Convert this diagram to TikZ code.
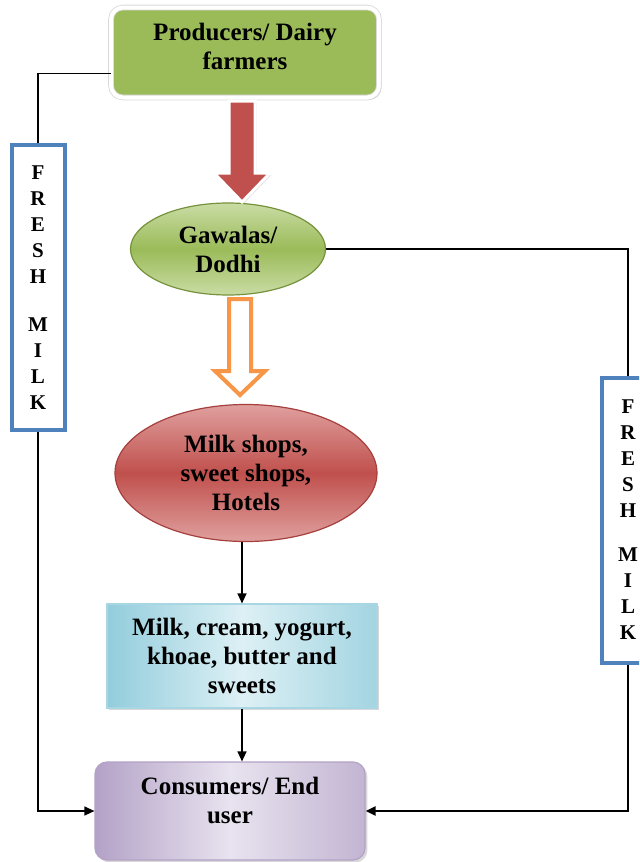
\documentclass[tikz,border=0pt]{standalone}
\usepackage{fontspec}
\setmainfont{Liberation Serif}
\usetikzlibrary{shapes.geometric,shadows,arrows.meta}

\definecolor{prodgreen}{HTML}{9BBB59}
\definecolor{lightgreen}{HTML}{C9DCA4}
\definecolor{darkgreen}{HTML}{76923C}
\definecolor{shopred}{HTML}{C0504D}
\definecolor{lightred}{HTML}{DFA09E}
\definecolor{darkred}{HTML}{A5403D}
\definecolor{milkcyan}{HTML}{92CDDC}
\definecolor{lightcyan}{HTML}{DDF0F5}
\definecolor{userpurple}{HTML}{B3A2C7}
\definecolor{lightpurple}{HTML}{E8E3EF}
\definecolor{freshblue}{HTML}{4F81BD}
\definecolor{arroworange}{HTML}{F79646}

\tikzset{
  boxtext/.style={font=\bfseries\fontsize{12.5}{14.5}\selectfont, align=center, text=black, inner sep=0pt},
  prodbox/.style={boxtext, rectangle, rounded corners=6pt, fill=prodgreen,
    draw=gray!30, double=white, double distance=2pt, line width=0.4pt,
    minimum width=134pt, minimum height=45pt, text depth=6pt,
    drop shadow={shadow xshift=1.2pt, shadow yshift=-1.2pt, fill=gray!60}},
  gawellipse/.style={boxtext, ellipse, draw=darkgreen, line width=0.6pt,
    top color=lightgreen, bottom color=lightgreen, middle color=prodgreen,
    minimum width=97.5pt, minimum height=46pt},
  shopellipse/.style={boxtext, ellipse, draw=darkred, line width=0.6pt,
    top color=lightred, bottom color=lightred, middle color=shopred,
    minimum width=131pt, minimum height=68.5pt},
  milkbox/.style={boxtext, rectangle, draw=milkcyan!80!white, line width=0.6pt,
    left color=milkcyan, right color=milkcyan!85!white, middle color=lightcyan,
    minimum width=135pt, minimum height=52pt,
    drop shadow={shadow xshift=1.2pt, shadow yshift=-1.2pt, fill=gray!60}},
  userbox/.style={boxtext, rectangle, rounded corners=6pt, draw=userpurple, line width=0.6pt,
    left color=userpurple, right color=userpurple!80!white, middle color=lightpurple,
    minimum width=135pt, minimum height=49pt, text depth=11pt,
    drop shadow={shadow xshift=1.2pt, shadow yshift=-1.2pt, fill=gray!60}},
  freshbox/.style={rectangle, draw=freshblue, fill=white, line width=2pt,
    font=\bfseries\fontsize{10.5}{13}\selectfont, align=center, inner sep=0pt,
    minimum width=26.5pt, minimum height=142.5pt},
  flow/.style={draw=black, line width=0.6pt},
  tip/.style={-{Triangle[length=5pt,width=4.5pt]}},
  redarrow/.style={fill=shopred, draw=white, line width=1.5pt,
    drop shadow={shadow xshift=0.8pt, shadow yshift=-0.8pt, fill=gray!50}},
  orangearrow/.style={fill=white, draw=arroworange, line width=2pt}
}

\begin{document}
\begin{tikzpicture}[x=0.5pt,y=-0.5pt]
  \clip (0,0) rectangle (639,862);
  % main chain
  \node[prodbox] (prod) at (245,52.5) {Producers/ Dairy\\farmers};
  \node[gawellipse] (gaw) at (228,249) {Gawalas/\\Dodhi};
  \node[shopellipse] (shop) at (246,473) {Milk shops,\\sweet shops,\\Hotels};
  \node[milkbox] (milk) at (242,656) {Milk, cream, yogurt,\\khoae, butter and\\sweets};
  \node[userbox] (user) at (230,811) {Consumers/ End\\user};
  % fresh milk boxes
  \node[freshbox] (lfresh) at (38,287.5) {F\\R\\E\\S\\H\\[11pt]M\\I\\L\\K};
  \node[freshbox] (rfresh) at (628,520) {F\\R\\E\\S\\H\\[9pt]M\\I\\L\\K};
  % block arrows
  \draw[redarrow] (229,101) -- (229,173) -- (214,173) -- (242,202) -- (270,173) -- (255,173) -- (255,101) -- cycle;
  \draw[orangearrow] (229,299) -- (229,371) -- (215,371) -- (240,395) -- (265,371) -- (251,371) -- (251,299) -- cycle;
  % connectors
  \draw[flow, tip] (shop.south -| milk.north) -- (milk.north);
  \draw[flow, tip] (milk.south) -- (milk.south |- user.north);
  \draw[flow] ([yshift=-10.5pt]prod.west) -| (lfresh.north);
  \draw[flow, tip] (lfresh.south) |- (user.west);
  \draw[flow] (gaw.east) -| (rfresh.north);
  \draw[flow, line width=1.4pt, tip] (rfresh.south) |- (user.east);
\end{tikzpicture}
\end{document}
